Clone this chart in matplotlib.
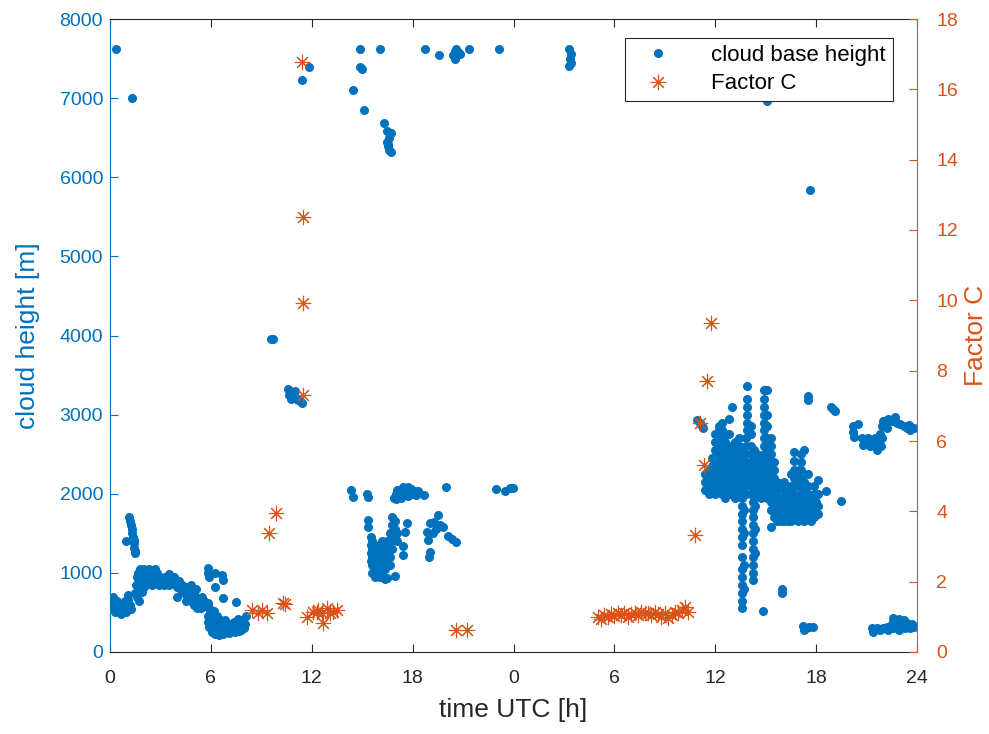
import numpy as np
import matplotlib.pyplot as plt

blue = '#0072BD'
orange = '#D95319'
dark = '#262626'

plt.rcParams['font.family'] = ['Liberation Sans', 'DejaVu Sans']

# ---- cloud base height: time in hours since start of record (0-48), height in m ----
# early morning, day 1
t_a = [0.05, 0.1, 0.15, 0.2, 0.25, 0.3, 0.35, 0.4, 0.45, 0.5, 0.55, 0.6, 0.65, 0.7, 0.75,
       0.8, 0.85, 0.9, 0.95, 1.0, 1.05, 1.1, 1.15, 1.2, 1.25, 0.15, 0.3, 0.9, 1.1]
m_a = [560, 600, 540, 620, 580, 500, 560, 640, 600, 520, 580, 550, 480, 530, 600,
       560, 620, 540, 500, 580, 620, 660, 560, 600, 540, 700, 650, 640, 720]

t_b = [1.15, 1.2, 1.25, 1.3, 1.3, 1.35, 1.4, 1.45, 1.45, 1.5, 1.5, 0.95]
m_b = [1700, 1650, 1600, 1550, 1500, 1450, 1420, 1380, 1320, 1280, 1250, 1400]

t_c = [1.5, 1.55, 1.6, 1.6, 1.65, 1.7, 1.7, 1.75, 1.8, 1.85, 1.9, 1.95, 2.0, 2.05, 2.1, 2.2,
       2.3, 2.35, 2.4, 2.5, 2.6, 2.7, 2.75, 2.8, 2.9, 3.0, 3.1, 3.2, 2.0, 2.5, 1.9]
m_c = [750, 850, 950, 700, 1000, 900, 800, 650, 1050, 950, 1000, 880, 1050, 950, 900, 1000,
       1050, 950, 880, 1000, 950, 1050, 900, 1000, 850, 950, 900, 850, 820, 850, 760]

t_d = [3.3, 3.4, 3.5, 3.6, 3.7, 3.8, 3.9, 4.0, 4.1, 4.2, 4.3, 4.4, 4.5, 4.6, 4.7, 4.8, 4.9,
       5.0, 5.1, 5.2, 5.3, 5.4, 5.5, 5.6, 5.7, 4.0, 4.5, 5.0, 3.5, 4.8, 5.2, 5.5, 5.8]
m_d = [950, 900, 980, 920, 870, 950, 880, 820, 900, 780, 850, 750, 820, 700, 780, 650, 720,
       600, 800, 680, 620, 560, 700, 650, 580, 700, 650, 750, 850, 850, 550, 600, 620]

t_e = [5.8, 5.85, 5.9, 5.95, 6.0, 6.0, 6.05, 6.1, 6.1, 6.15, 6.2, 6.25, 6.3, 6.3, 6.35, 6.4,
       6.45, 6.5, 6.5, 6.55, 6.6, 6.65, 6.7, 6.75, 6.8, 6.85, 6.9, 6.95, 7.0, 7.05, 7.1, 7.15,
       6.0, 6.2, 5.9, 7.2, 7.3, 7.4, 7.5, 7.6, 7.7, 7.8, 7.9, 8.0, 8.1, 7.45, 7.65, 7.95,
       5.8, 5.85, 5.9, 6.25, 6.65, 6.7, 6.25, 6.7, 7.5]
m_e = [450, 380, 320, 500, 420, 300, 250, 480, 350, 280, 420, 230, 380, 300, 450, 250,
       350, 220, 420, 300, 260, 380, 230, 320, 280, 400, 250, 330, 280, 240, 360, 300,
       520, 520, 550, 320, 260, 380, 300, 420, 340, 280, 400, 350, 450, 250, 270, 300,
       1060, 1000, 950, 1000, 970, 910, 820, 680, 630]

# around noon, day 1
t_f = [9.6, 9.7, 10.6, 10.65, 10.7, 10.75, 10.8, 10.9, 11.0, 11.0, 11.1, 11.2, 11.3, 11.4]
m_f = [3960, 3950, 3320, 3250, 3300, 3200, 3280, 3250, 3220, 3300, 3200, 3180, 3170, 3150]

# high cloud
t_high = [0.36, 1.29, 11.4, 11.84, 14.46, 14.85, 14.87, 14.97, 15.11, 16.06, 16.3, 16.5,
          16.7, 16.6, 16.5, 16.55, 16.6, 16.7, 16.55, 18.74, 19.57, 20.4, 20.5, 20.6, 20.7,
          20.5, 20.8, 20.6, 21.34, 23.12, 27.3, 27.4, 27.35, 27.4, 27.3, 39.07, 41.64]
m_high = [7620, 7000, 7226, 7390, 7100, 7620, 7390, 7370, 6850, 7620, 6680, 6580,
          6560, 6500, 6450, 6400, 6350, 6320, 6420, 7620, 7540, 7550, 7600, 7620, 7580,
          7500, 7560, 7540, 7620, 7620, 7620, 7560, 7500, 7450, 7400, 6960, 5840]

# afternoon / evening, day 1
t_g = [14.32, 14.47, 15.33, 15.3, 16.9, 17.0, 17.1, 17.2, 17.3, 17.4, 17.5, 17.6, 17.7, 17.8,
       17.9, 18.0, 18.1, 18.2, 18.3, 17.0, 17.3, 17.7, 18.7, 19.97, 22.94, 23.5, 23.8, 23.96]
m_g = [2050, 1960, 1960, 2000, 1950, 2000, 2050, 1980, 2030, 2080, 2000, 2050, 1970, 2020,
       2060, 2000, 2040, 1980, 2030, 1930, 1940, 2090, 1990, 2080, 2060, 2035, 2070, 2070]

t_i = [15.35, 15.35, 15.5, 15.5, 15.5, 15.5, 15.6, 15.6, 15.6, 15.6, 15.6,
       15.75, 15.75, 15.75, 15.75, 15.75, 15.9, 15.9, 15.9, 15.9,
       16.05, 16.05, 16.05, 16.05, 16.05, 16.2, 16.2, 16.2, 16.2, 16.2,
       16.35, 16.35, 16.35, 16.35, 16.35, 16.5, 16.5, 16.5, 16.5, 16.5,
       16.65, 16.65, 16.65, 16.65, 16.65, 16.8, 16.8, 16.8, 16.8, 16.8,
       16.95, 16.95, 16.95, 16.95, 17.1, 17.1, 17.45, 17.45, 17.55, 17.65]
m_i = [1670, 1580, 1450, 1350, 1250, 1150, 1400, 1300, 1200, 1100, 1000,
       1350, 1250, 1150, 1050, 950, 1300, 1200, 1100, 1000,
       1350, 1250, 1150, 1050, 950, 1400, 1300, 1200, 1100, 1000,
       1350, 1250, 1150, 1050, 920, 1400, 1300, 1200, 1100, 930,
       1500, 1400, 1300, 1200, 1100, 1710, 1600, 1500, 1400, 1300,
       1650, 1550, 1450, 960, 1500, 1400, 1340, 1220, 1520, 1630]

t_j = [19.53, 19.04, 18.84, 19.83, 18.94, 19.2, 20.13, 20.33, 20.58, 19.0, 19.05, 19.4, 19.6, 19.3]
m_j = [1730, 1630, 1520, 1580, 1415, 1500, 1460, 1430, 1390, 1205, 1260, 1560, 1600, 1640]

# day 2, around noon / afternoon
t_k = [34.9, 35.1, 35.2, 35.3,
       35.4, 35.4, 35.4, 35.6, 35.6, 35.6, 35.6,
       35.8, 35.8, 35.8, 35.8, 35.8,
       36.0, 36.0, 36.0, 36.0, 36.0, 36.0, 36.0, 36.0,
       36.2, 36.2, 36.2, 36.2, 36.2, 36.2, 36.2, 36.2, 36.2,
       36.4, 36.4, 36.4, 36.4, 36.4, 36.4, 36.4, 36.4, 36.4, 36.4,
       36.6, 36.6, 36.6, 36.6, 36.6, 36.6, 36.6, 36.6, 36.6,
       36.8, 36.8, 36.8, 36.8, 36.8, 36.8, 36.8, 36.8, 36.8,
       37.0, 37.0, 37.0, 37.0, 37.0, 37.0, 37.0, 37.0,
       37.2, 37.2, 37.2, 37.2, 37.2, 37.2, 37.2, 37.2,
       37.4, 37.4, 37.4, 37.4, 37.4, 37.4, 37.4, 37.4,
       37.6, 37.6, 37.6, 37.6, 37.6, 37.6, 37.6,
       37.8, 37.8, 37.8, 37.8, 37.8, 37.8, 37.8, 37.8,
       37.9, 37.9, 37.9, 37.9, 37.9, 37.9,
       38.1, 38.1, 38.1, 38.1, 38.1, 38.1, 38.1, 38.1, 38.1,
       38.3, 38.3, 38.3, 38.3, 38.3, 38.3, 38.3,
       38.5, 38.5, 38.5, 38.5, 38.5, 38.5,
       38.7, 38.7, 38.7, 38.7, 38.7, 38.7,
       38.9, 38.9, 38.9, 38.9, 38.9, 38.9, 38.9, 38.9, 38.9, 38.9, 38.9, 38.9, 38.9, 38.9,
       39.1, 39.1, 39.1, 39.1, 39.1, 39.1, 39.1, 39.1, 39.1, 39.1, 39.1,
       39.3, 39.3, 39.3, 39.3, 39.3, 39.3, 39.3, 39.3, 39.3, 39.3,
       39.5, 39.5, 39.5, 39.5, 39.5, 39.5, 39.5, 39.5,
       39.7, 39.7, 39.7, 39.7, 39.7, 39.7,
       39.9, 39.9, 39.9, 39.9, 39.9,
       40.1, 40.1, 40.1, 40.1, 40.1, 40.1,
       40.3, 40.3, 40.3, 40.3,
       40.5, 40.5, 40.5, 40.5, 40.5, 40.5,
       40.7, 40.7, 40.7, 40.7, 40.7, 40.7, 40.7, 40.7, 40.7,
       40.9, 40.9, 40.9, 40.9, 40.9, 40.9,
       41.1, 41.1, 41.1, 41.1, 41.1, 41.1, 41.1, 41.1, 41.1,
       41.3, 41.3, 41.3, 41.3, 41.3, 41.3, 41.3,
       41.5, 41.5, 41.5, 41.5, 41.5, 41.5, 41.5, 41.5,
       41.7, 41.7, 41.7,
       41.9, 41.9, 41.9, 41.9, 41.9,
       42.1, 42.1, 42.1, 42.1, 42.6, 43.5]
m_k = [2930, 2890, 2850, 2830,
       2050, 2150, 2250, 2000, 2100, 2200, 2300,
       2050, 2150, 2250, 2350, 2450,
       2000, 2100, 2200, 2300, 2400, 2550, 2650, 2750,
       2050, 2150, 2250, 2350, 2450, 2550, 2650, 2800, 2850,
       2000, 2100, 2200, 2300, 2400, 2500, 2600, 2700, 2800, 2900,
       1950, 2050, 2150, 2250, 2350, 2450, 2550, 2650, 2750,
       2000, 2100, 2200, 2300, 2400, 2500, 2600, 2750, 2950,
       2000, 2100, 2200, 2300, 2400, 2500, 2600, 3100,
       1950, 2050, 2150, 2250, 2350, 2450, 2550, 2650,
       2000, 2100, 2200, 2300, 2400, 2500, 2600, 2700,
       1950, 2050, 2150, 2250, 2350, 2450, 2550,
       2000, 2100, 2200, 2300, 2400, 2500, 2600, 2700,
       2800, 2900, 3000, 3100, 3200, 3360,
       2000, 2100, 2200, 2300, 2400, 2500, 2600, 2750, 2850,
       1950, 2050, 2150, 2250, 2350, 2450, 2550,
       2000, 2100, 2200, 2300, 2400, 2500,
       1950, 2050, 2150, 2250, 2350, 2450,
       2000, 2100, 2200, 2300, 2400, 2500, 2600, 2700, 2800, 2900, 3000, 3100, 3200, 3310,
       1950, 2050, 2150, 2250, 2350, 2450, 2550, 2700, 2850, 3000, 3310,
       1800, 1900, 2000, 2100, 2200, 2300, 2400, 2500, 2600, 2700,
       1700, 1800, 1900, 2000, 2100, 2200, 2300, 2400,
       1650, 1750, 1850, 1950, 2050, 2150,
       1650, 1750, 1850, 1950, 2100,
       1650, 1750, 1850, 1950, 2050, 2150,
       1650, 1750, 1850, 2000,
       1650, 1750, 1850, 1950, 2100, 2250,
       1700, 1800, 1900, 2000, 2100, 2200, 2300, 2420, 2530,
       1650, 1750, 1850, 1950, 2100, 2200,
       1700, 1800, 1900, 2000, 2100, 2200, 2300, 2400, 2500,
       1650, 1750, 1850, 1950, 2050, 2150, 2550,
       1700, 1800, 1900, 2000, 2100, 2250, 3230, 3180,
       1650, 1750, 1850,
       1700, 1800, 1900, 2000, 2100,
       1750, 1850, 2000, 2170, 2030, 1910]

# day 2, extra scatter inside the noon cluster (offset between the columns above)
t_k2 = [35.5, 35.7, 35.9, 36.1, 36.3, 36.5, 36.7, 36.9, 37.1, 37.3, 37.5, 37.7, 38.0,
        38.2, 38.4, 38.6, 38.8, 39.0, 39.2, 39.4, 39.6, 39.8, 40.0, 40.2, 40.4, 40.6,
        40.8, 41.0, 41.2, 41.4, 41.6, 41.8, 42.0,
        35.5, 35.9, 36.3, 36.7, 37.1, 37.5, 37.9, 38.3, 38.7, 39.2, 39.6, 40.0, 40.4,
        40.8, 41.2, 41.6]
m_k2 = [2120, 2280, 2380, 2480, 2620, 2350, 2600, 2450, 2350, 2500, 2300, 2400, 2250,
        2330, 2280, 2200, 2150, 2420, 2630, 2150, 1920, 1880, 1760, 1900, 1800, 2000,
        1850, 2300, 2050, 1850, 1950, 1800, 1900,
        2230, 2120, 2050, 2100, 2050, 2150, 2150, 2100, 2050, 2120, 1980, 1930, 1700,
        1720, 1750, 1700]

# day 2, downward streaks and scattered low points
t_l = [37.6, 37.6, 37.6, 37.6, 37.6, 37.6, 37.6, 37.6, 37.6, 37.6, 37.6, 37.6, 37.6,
       37.7, 37.7, 37.7, 37.7,
       38.25, 38.25, 38.25, 38.25, 38.25, 38.25, 38.25, 38.25, 38.25, 38.25, 38.25,
       38.35, 38.35, 38.35, 38.86, 39.95, 39.95, 39.32,
       41.2, 41.3, 41.4, 41.6, 41.8]
m_l = [1850, 1750, 1650, 1550, 1450, 1350, 1200, 1050, 950, 850, 750, 650, 550,
       1800, 1500, 1100, 800,
       1900, 1800, 1700, 1600, 1500, 1400, 1300, 1200, 1100, 1000, 910,
       1850, 1550, 1250, 520, 800, 750, 1580,
       330, 280, 300, 310, 320]

# day 2, evening
t_m = [42.9, 43.0, 43.1, 44.2, 44.2, 44.25, 44.5, 44.7, 44.8, 45.0, 45.1, 45.2, 45.3,
       45.4, 45.5, 45.6, 45.7, 45.8, 45.9, 45.85, 45.9, 46.0, 46.1, 46.3, 46.5, 46.7,
       46.8, 47.0, 47.2, 47.4, 47.6, 47.8, 47.5, 46.2]
m_m = [3100, 3070, 3040, 2850, 2780, 2720, 2880, 2700, 2620, 2650, 2700, 2600, 2680,
       2620, 2700, 2550, 2650, 2750, 2700, 2600, 2850, 2920, 2880, 2950, 2920, 2970,
       2900, 2880, 2850, 2830, 2810, 2830, 2870, 2830]

t_n = [45.3, 45.4, 45.6, 45.8, 46.0, 46.2, 46.3, 46.5, 46.6, 46.7, 46.8, 46.9, 47.0,
       47.1, 47.2, 47.3, 47.4, 47.5, 47.6, 47.7, 47.8, 46.55, 46.9, 47.2]
m_n = [300, 250, 300, 280, 300, 320, 280, 350, 300, 400, 330, 280, 380,
       320, 350, 300, 370, 330, 300, 350, 320, 430, 420, 400]

# ---- Factor C ----
t_fc = [8.43, 8.83, 9.02, 9.32, 9.48, 9.86, 10.31, 10.4, 11.4, 11.46, 11.5, 11.5, 11.7,
        12.1, 12.29, 12.39, 12.59, 12.65, 12.89, 13.09, 13.28, 13.48, 20.58, 21.26,
        29.0, 29.2, 29.4, 29.6, 29.8, 30.0, 30.2, 30.4, 30.6, 30.8, 31.0, 31.2, 31.4,
        31.6, 31.8, 32.0, 32.2, 32.4, 32.6, 32.8, 33.0, 33.2, 33.4, 33.6, 33.8, 34.0,
        34.2, 34.4, 34.8, 35.1, 35.36, 35.5, 35.75]
fc = [1.19, 1.1, 1.19, 1.1, 3.39, 3.94, 1.38, 1.36, 16.77, 12.38, 9.91, 7.31, 1.0,
      1.15, 1.15, 1.19, 1.1, 0.83, 1.24, 1.1, 1.15, 1.19, 0.63, 0.63,
      1.0, 0.95, 1.05, 1.0, 1.08, 1.02, 1.1, 1.05, 1.12, 1.0, 1.08, 1.1, 1.05,
      1.15, 1.1, 1.12, 1.05, 1.15, 1.08, 1.0, 1.1, 0.98, 1.05, 1.15, 1.1, 1.2,
      1.28, 1.15, 3.33, 6.52, 5.32, 7.7, 9.36]

x_ticks = [0, 6, 12, 18, 24, 30, 36, 42, 48]
x_labels = ['0', '6', '12', '18', '0', '6', '12', '18', '24']

t_cbh = t_a + t_b + t_c + t_d + t_e + t_f + t_high + t_g + t_i + t_j + t_k + t_k2 + t_l + t_m + t_n
m_cbh = m_a + m_b + m_c + m_d + m_e + m_f + m_high + m_g + m_i + m_j + m_k + m_k2 + m_l + m_m + m_n

fig = plt.figure(figsize=(9.89, 7.34), dpi=100)
ax1 = fig.add_axes([110 / 989, 1 - 652 / 734, 807 / 989, 633 / 734])
ax2 = ax1.twinx()

l1, = ax1.plot(t_cbh, m_cbh, 'o', color=blue, ms=6.5, mew=0, linestyle='none',
               label='cloud base height')
l2, = ax2.plot(t_fc, fc, marker=(8, 2, 0), color=orange, ms=11, mew=0.8,
               linestyle='none', label='Factor C')

ax1.set_xlim(0, 48)
ax1.set_ylim(0, 8000)
ax2.set_ylim(0, 18)
ax1.set_xticks(x_ticks)
ax1.set_xticklabels(x_labels)
ax1.set_yticks(np.arange(0, 8001, 1000))
ax2.set_yticks(np.arange(0, 19, 2))

ax1.tick_params(axis='x', direction='in', top=True, length=6, width=0.8,
                colors=dark, labelsize=14, pad=13)
ax1.tick_params(axis='y', direction='in', length=6, width=0.8, colors=blue,
                labelsize=14, pad=5)
ax2.tick_params(axis='y', direction='in', length=6, width=0.8, colors=orange,
                labelsize=14, pad=14)

for s in ['top', 'bottom']:
    ax1.spines[s].set_color(dark)
    ax1.spines[s].set_linewidth(0.8)
ax1.spines['left'].set_color(blue)
ax1.spines['right'].set_visible(False)
for s in ['top', 'bottom', 'left']:
    ax2.spines[s].set_visible(False)
ax2.spines['right'].set_color(orange)
ax2.spines['right'].set_linewidth(0.8)
ax1.spines['left'].set_linewidth(0.8)

ax1.set_xlabel('time UTC [h]', fontsize=19, color=dark, labelpad=8)
ax1.set_ylabel('cloud height [m]', fontsize=19, color=blue, labelpad=14)
ax2.set_ylabel('Factor C', fontsize=19, color=orange, labelpad=4)

leg = ax2.legend(handles=[l1, l2], loc='upper right', bbox_to_anchor=(0.97, 0.97),
                 borderaxespad=0, fontsize=16, fancybox=False, edgecolor=dark,
                 framealpha=1, handletextpad=1.2, borderpad=0.3, labelspacing=0.35,
                 handlelength=2.4)
leg.get_frame().set_linewidth(0.8)

fig.savefig('out.png', dpi=100)
